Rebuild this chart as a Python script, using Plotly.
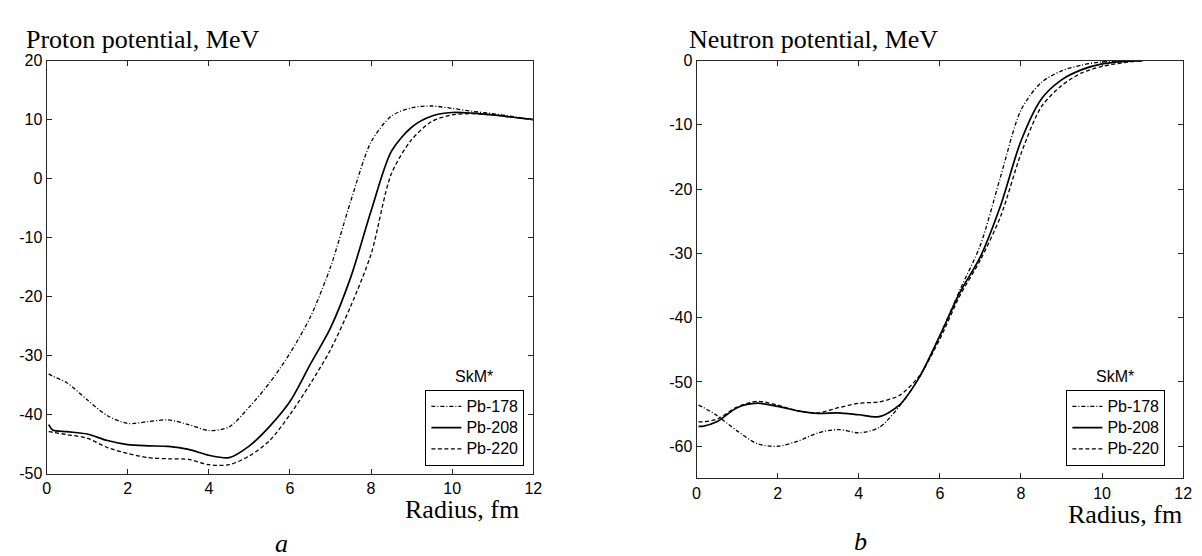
import plotly.graph_objects as go

# ---------------- data ----------------
series_names = ["Pb-178", "Pb-208", "Pb-220"]

r_proton = [0.05, 0.15, 0.5, 1.0, 1.5, 2.0, 2.5, 3.0, 3.5, 4.0, 4.5, 5.0, 5.5,
            6.0, 6.5, 7.0, 7.5, 8.0, 8.5, 9.0, 9.5, 10.0, 10.5, 11.0, 11.5, 12.0]
proton_pb178 = [-33.1, -33.5, -34.6, -37.5, -40.2, -41.5, -41.2, -40.9, -41.7, -42.7, -42.1, -38.7, -34.6,
                -29.6, -23.5, -15.0, -3.8, 6.2, 10.6, 12.0, 12.3, 11.9, 11.4, 11.0, 10.5, 10.0]
proton_pb208 = [-41.7, -42.6, -42.9, -43.3, -44.4, -45.1, -45.3, -45.4, -45.9, -46.9, -47.3, -45.3, -42.0,
                -37.8, -31.5, -25.3, -16.7, -5.5, 4.6, 8.7, 10.6, 11.2, 11.1, 10.8, 10.4, 10.0]
proton_pb220 = [-42.9, -43.0, -43.4, -44.0, -45.6, -46.6, -47.3, -47.5, -47.6, -48.5, -48.5, -47.0, -44.4,
                -40.0, -34.8, -29.0, -21.6, -12.8, 0.8, 6.6, 9.7, 10.8, 11.0, 10.8, 10.4, 10.0]

r_neutron = [0.05, 0.15, 0.5, 1.0, 1.5, 2.0, 2.5, 3.0, 3.5, 4.0, 4.5, 5.0, 5.5,
             6.0, 6.5, 7.0, 7.5, 8.0, 8.5, 9.0, 9.5, 10.0, 10.5, 11.0]
neutron_pb178 = [-53.6, -53.9, -55.2, -57.6, -59.6, -60.0, -59.2, -57.9, -57.4, -57.9, -57.1, -53.8, -49.2,
                 -42.8, -35.6, -28.7, -18.0, -7.7, -3.4, -1.6, -0.7, -0.2, -0.05, 0.0]
neutron_pb208 = [-56.9, -56.9, -56.2, -54.0, -53.3, -53.8, -54.5, -54.9, -54.8, -55.1, -55.4, -53.6, -49.2,
                 -42.8, -36.0, -30.5, -22.5, -12.5, -6.0, -3.0, -1.4, -0.5, -0.15, 0.0]
neutron_pb220 = [-56.2, -56.2, -55.8, -53.9, -53.0, -53.6, -54.5, -54.8, -54.0, -53.3, -53.1, -52.1, -49.0,
                 -43.3, -36.5, -31.0, -24.2, -14.5, -7.2, -3.9, -1.9, -0.9, -0.35, 0.0]

x_ticks = [0, 2, 4, 6, 8, 10, 12]
x_tick_labels = ["0", "2", "4", "6", "8", "10", "12"]
proton_y_ticks = [-50, -40, -30, -20, -10, 0, 10, 20]
proton_y_labels = ["-50", "-40", "-30", "-20", "-10", "0", "10", "20"]
neutron_y_ticks = [-60, -50, -40, -30, -20, -10, 0]
neutron_y_labels = ["-60", "-50", "-40", "-30", "-20", "-10", "0"]

# ---------------- styling ----------------
W, H = 1202, 556
SANS = "Liberation Sans, Arial, sans-serif"
SERIF = "Liberation Serif, Times New Roman, serif"
dashes = {"Pb-178": "4px,2px,1px,2px", "Pb-208": "solid", "Pb-220": "4px,2.5px"}
widths = {"Pb-178": 1.3, "Pb-208": 1.7, "Pb-220": 1.3}

def px(x):
    return x / W

def py(y):
    return 1 - y / H

def legend_label(name):
    return "<span style='font-size:16px'>" + name + "</span>"

fig = go.Figure()

proton = [proton_pb178, proton_pb208, proton_pb220]
neutron = [neutron_pb178, neutron_pb208, neutron_pb220]

for name, ys in zip(series_names, proton):
    fig.add_trace(go.Scatter(
        x=r_proton, y=ys, mode="lines", name=legend_label(name), xaxis="x", yaxis="y",
        line=dict(color="black", width=widths[name], dash=dashes[name], shape="spline", smoothing=0.8),
        legend="legend"))

for name, ys in zip(series_names, neutron):
    fig.add_trace(go.Scatter(
        x=r_neutron, y=ys, mode="lines", name=legend_label(name), xaxis="x2", yaxis="y2",
        line=dict(color="black", width=widths[name], dash=dashes[name], shape="spline", smoothing=0.8),
        legend="legend2"))

axis_common = dict(showline=True, linecolor="#262626", linewidth=1, mirror="ticks",
                   ticks="inside", ticklen=5, tickcolor="#262626", tickwidth=1,
                   showgrid=False, zeroline=False,
                   tickfont=dict(family=SANS, size=16, color="black"))

legend_common = dict(bordercolor="black", borderwidth=1, bgcolor="white",
                     font=dict(family=SANS, size=14, color="black"),
                     tracegroupgap=0, itemwidth=30, yanchor="bottom", xanchor="right")

fig.update_layout(
    width=W, height=H,
    margin=dict(l=0, r=0, t=0, b=0),
    paper_bgcolor="white", plot_bgcolor="white",
    xaxis=dict(domain=[px(35), px(527)], range=[0, 12], tickvals=x_ticks, ticktext=x_tick_labels,
               anchor="y", **axis_common),
    yaxis=dict(domain=[py(472), py(46)], range=[-50, 20], tickvals=proton_y_ticks, ticktext=proton_y_labels,
               anchor="x", **axis_common),
    xaxis2=dict(domain=[px(692), px(1184)], range=[0, 12], tickvals=x_ticks, ticktext=x_tick_labels,
                anchor="y2", **axis_common),
    yaxis2=dict(domain=[py(477), py(46)], range=[-65, 0], tickvals=neutron_y_ticks, ticktext=neutron_y_labels,
                anchor="x2", **axis_common),
    legend=dict(x=px(518), y=py(464), **legend_common),
    legend2=dict(x=px(1166), y=py(464), **legend_common),
    showlegend=True,
)

annots = [
    dict(text="Proton potential, MeV", x=px(12), y=py(24), xanchor="left", yanchor="middle",
         font=dict(family=SERIF, size=26, color="black")),
    dict(text="Neutron potential, MeV", x=px(682), y=py(24), xanchor="left", yanchor="middle",
         font=dict(family=SERIF, size=26, color="black")),
    dict(text="Radius, fm", x=px(515), y=py(509), xanchor="right", yanchor="middle",
         font=dict(family=SERIF, size=26, color="black")),
    dict(text="Radius, fm", x=px(1185), y=py(514), xanchor="right", yanchor="middle",
         font=dict(family=SERIF, size=26, color="black")),
    dict(text="<i>a</i>", x=px(272), y=py(544), xanchor="center", yanchor="middle",
         font=dict(family=SERIF, size=26, color="black")),
    dict(text="<i>b</i>", x=px(858), y=py(542), xanchor="center", yanchor="middle",
         font=dict(family=SERIF, size=26, color="black")),
    dict(text="SkM*", x=px(467), y=py(372), xanchor="center", yanchor="middle",
         font=dict(family=SANS, size=16, color="black")),
    dict(text="SkM*", x=px(1115), y=py(372), xanchor="center", yanchor="middle",
         font=dict(family=SANS, size=16, color="black")),
]
for a in annots:
    fig.add_annotation(xref="paper", yref="paper", showarrow=False, **a)

fig.write_html("out.html")
